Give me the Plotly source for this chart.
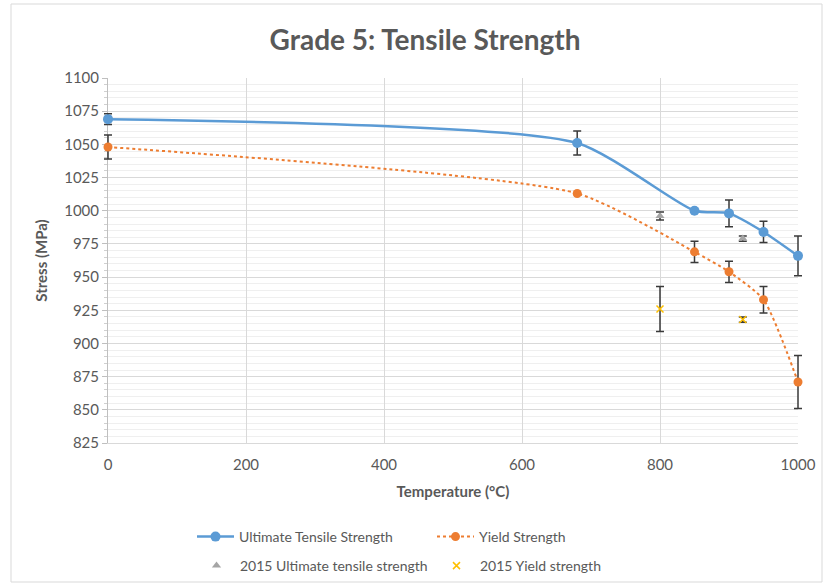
import plotly.graph_objects as go

temp = [0, 680, 850, 900, 950, 1000]
uts = [1069, 1051, 1000, 998, 984, 966]
uts_err = [4, 9, 0, 10, 8, 15]
ys = [1048, 1013, 969, 954, 933, 871]
ys_err = [9, 0, 8, 8, 10, 20]

temp_2015 = [800, 920]
uts_2015 = [996, 979]
uts_2015_err = [3, 2]
ys_2015 = [926, 918]
ys_2015_err = [17, 2]

X_RANGE = [0, 1000]
Y_RANGE = [825, 1100]

FONT = "Lato, Open Sans, sans-serif"
TXT = "#595959"
EB = dict(type="data", thickness=1.5, width=4, color="#3a3a3a")

# the data layer sits on a slightly wider (hidden) axis pair so that error bars at the
# ends of the axis are not clipped; its range is scaled to match the visible axis exactly
PAD = 8            # px of extra room on each side
PLOT_W = 690       # visible plot width in px
W_TOTAL = PLOT_W + 2 * PAD
d = PAD / W_TOTAL
ext = (X_RANGE[1] - X_RANGE[0]) * PAD / PLOT_W
X2_RANGE = [X_RANGE[0] - ext, X_RANGE[1] + ext]

fig = go.Figure()
# empty trace so that the visible axis pair (gridlines, ticks, titles) is drawn
fig.add_trace(go.Scatter(x=[], y=[], showlegend=False, hoverinfo="skip", xaxis="x", yaxis="y"))

common = dict(xaxis="x2", yaxis="y2", cliponaxis=False)
fig.add_trace(go.Scatter(
    x=temp, y=uts, name="Ultimate Tensile Strength", mode="lines+markers",
    line=dict(color="#5b9bd5", width=2.5, shape="spline", smoothing=0.6),
    marker=dict(color="#5b9bd5", size=10),
    error_y=dict(array=uts_err, **EB), legend="legend", **common))
fig.add_trace(go.Scatter(
    x=temp, y=ys, name="Yield Strength", mode="lines+markers",
    line=dict(color="#ed7d31", width=2, dash="dot", shape="spline", smoothing=0.6),
    marker=dict(color="#ed7d31", size=9),
    error_y=dict(array=ys_err, **EB), legend="legend", **common))
fig.add_trace(go.Scatter(
    x=temp_2015, y=uts_2015, name="2015 Ultimate tensile strength", mode="markers",
    marker=dict(color="#a5a5a5", size=8, symbol="triangle-up"),
    error_y=dict(array=uts_2015_err, **EB), legend="legend2", **common))
fig.add_trace(go.Scatter(
    x=temp_2015, y=ys_2015, name="2015 Yield strength", mode="markers",
    marker=dict(color="#ffc000", size=7, symbol="x-thin", line=dict(color="#ffc000", width=1.5)),
    error_y=dict(array=ys_2015_err, **EB), legend="legend2", **common))

leg = dict(orientation="h", xanchor="left", yanchor="middle", itemwidth=37,
           xref="container", yref="container",
           entrywidth=188, font=dict(size=14, color=TXT), bgcolor="rgba(0,0,0,0)")

fig.update_layout(
    width=830, height=587,
    margin=dict(l=108 - PAD, r=32 - PAD, t=78, b=144),
    paper_bgcolor="white", plot_bgcolor="rgba(0,0,0,0)",
    font=dict(family=FONT, color=TXT, size=15),
    title=dict(text="<b>Grade 5: Tensile Strength</b>", font=dict(size=28, color=TXT, family=FONT),
               x=425/830, xref="container", xanchor="center", y=1-40/587, yanchor="middle"),
    xaxis=dict(range=X_RANGE, domain=[d, 1 - d], tickvals=[0, 200, 400, 600, 800, 1000], showgrid=True,
               gridcolor="#d9d9d9", gridwidth=1, zeroline=False, showline=True, linecolor="#d9d9d9",
               ticks="", tickfont=dict(size=15, color=TXT), ticklabelstandoff=8, automargin=False,
               anchor="y",
               title=dict(text="<b>Temperature (°C)</b>", font=dict(size=15, color=TXT), standoff=14)),
    yaxis=dict(range=Y_RANGE, dtick=25, tick0=825, showgrid=True, gridcolor="#d9d9d9", anchor="x",
               zeroline=False, showline=True, linecolor="#bfbfbf", ticks="outside", ticklen=5,
               tickcolor="#bfbfbf", tickfont=dict(size=15, color=TXT), automargin=False,
               minor=dict(dtick=5, showgrid=True, gridcolor="#efefef", ticks="outside", ticklen=3, tickcolor="#d0d0d0"),
               title=dict(text="<b>Stress (MPa)</b>", font=dict(size=15, color=TXT), standoff=12)),
    xaxis2=dict(range=X2_RANGE, domain=[0, 1], visible=False, showgrid=False, zeroline=False,
                anchor="y2", fixedrange=True),
    yaxis2=dict(range=Y_RANGE, domain=[0, 1], visible=False, showgrid=False, zeroline=False,
                anchor="x2", fixedrange=True),
    legend=dict(x=192/830, y=1 - 537/587, **leg),
    legend2=dict(x=193/830, y=1 - 566/587, **leg),
    showlegend=True,
)
fig.add_shape(type="rect", xref="paper", yref="paper",
              x0=(11-100)/706, x1=(822-100)/706, y0=(443-582)/365, y1=(443-4)/365,
              line=dict(color="#d9d9d9", width=1))
fig.write_html("out.html")
